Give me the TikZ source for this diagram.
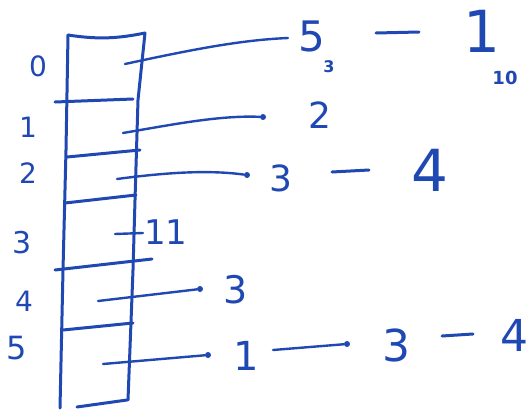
\documentclass[tikz,border=0pt]{standalone}
\usepackage{fontspec}
\setmainfont{DejaVu Sans}
\definecolor{ink}{RGB}{32,72,178}
\begin{document}
\begin{tikzpicture}[x=1pt,y=-1pt,
  ink/.style={draw=ink, line width=3pt, line cap=round, line join=round},
  ptr/.style={ink, line width=2.4pt},
  dot/.style={circle, fill=ink, inner sep=0pt, minimum size=6pt},
  fs/.style={text=ink, inner sep=0pt, font=\fontsize{#1}{#1}\selectfont},
  sub/.style={text=ink, font=\fontsize{16}{16}\selectfont\bfseries, inner sep=0pt}]
\useasboundingbox (0,0) rectangle (531,410);
% array outline
\coordinate (tl) at (68,35);
\coordinate (tr) at (145,33);
\coordinate (bl) at (60,408);
\coordinate (br) at (128,400);
\draw[ink] (tl) .. controls (100,40) and (120,38) .. (tr);
\draw[ink] (tl) -- (66,150) -- (63,270) -- (bl);
\draw[ink] (tr) -- (138,100) -- (135,200) -- (133,270) -- (br);
% dividers
\draw[ink] (55,102) -- (133,99);
\draw[ink] (67,157) -- (140,150);
\draw[ink] (65,203) -- (136,195);
\draw[ink] (55,270) -- (152,259);
\draw[ink] (63,330) -- (133,323);
\draw[ink] (77,407) -- (127,400);
% index labels
\node[fs=28] (i0) at (38,66) {0};
\node[fs=28] (i1) at (28,127) {1};
\node[fs=28] (i2) at (28,173) {2};
\node[fs=30] (i3) at (22,243) {3};
\node[fs=28] (i4) at (24,301) {4};
\node[fs=32] (i5) at (17,348) {5};
% row 0
\coordinate (p0) at (125,64);
\coordinate (e0) at (288,38);
\draw[ptr] (p0) .. controls (190,50) and (240,40) .. (e0);
\node[fs=42] (n05) at (312,36) {5};
\node[sub] (n05s) at (329,67) {3};
\coordinate (d0a) at (376,33);
\coordinate (d0b) at (419,32);
\draw[ink] (d0a) -- (d0b);
\node[fs=58] (n01) at (482,31) {1};
\node[sub, font=\fontsize{18}{18}\selectfont\bfseries] (n01s) at (505,78) {10};
% row 1
\coordinate (p1) at (123,133);
\node[dot] (e1) at (263,117) {};
\draw[ptr] (p1) .. controls (170,125) and (220,115) .. (e1);
\node[fs=36] (n12) at (320,115) {2};
% row 2
\coordinate (p2) at (117,179);
\node[dot] (e2) at (247,175) {};
\draw[ptr] (p2) .. controls (170,172) and (210,170) .. (e2);
\node[fs=36] (n23) at (281,178) {3};
\coordinate (d2a) at (332,172);
\coordinate (d2b) at (369,170);
\draw[ink] (d2a) -- (d2b);
\node[fs=58] (n24) at (430,170) {4};
% row 3
\coordinate (p3) at (115,234);
\coordinate (e3) at (143,233);
\draw[ptr] (p3) -- (e3);
\node[fs=34] (n311) at (166,232) {11};
% row 4
\coordinate (p4) at (98,301);
\node[dot] (e4) at (200,289) {};
\draw[ptr] (p4) -- (e4);
\node[fs=38] (n43) at (236,290) {3};
% row 5
\coordinate (p5) at (103,364);
\node[dot] (e5) at (208,355) {};
\draw[ptr] (p5) -- (e5);
\node[fs=40] (n51) at (246,356) {1};
\coordinate (d5a) at (273,350);
\node[dot] (d5b) at (347,344) {};
\draw[ptr] (d5a) -- (d5b);
\node[fs=44] (n53) at (396,345) {3};
\coordinate (d5c) at (442,336);
\coordinate (d5d) at (473,334);
\draw[ink] (d5c) -- (d5d);
\node[fs=44] (n54) at (514,335) {4};
\end{tikzpicture}
\end{document}
